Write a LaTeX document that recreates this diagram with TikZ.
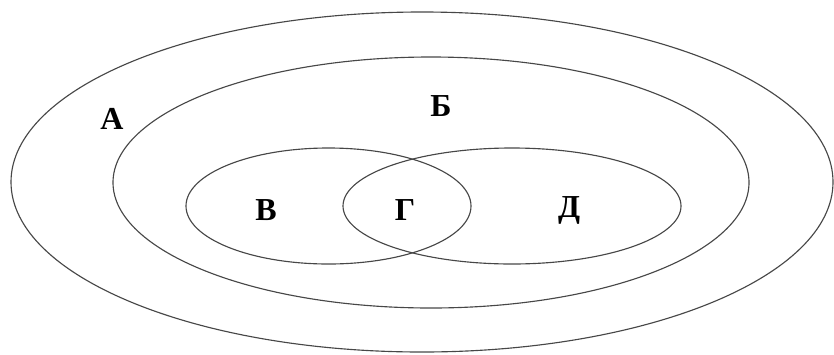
\documentclass[tikz,border=0pt]{standalone}
\usepackage{fontspec}
\setmainfont{Liberation Serif}
\usepackage{tikz}

\begin{document}
\begin{tikzpicture}[
  x=0.75pt, y=-0.75pt,
  setline/.style={draw=black!72, line width=0.85pt},
  setlabel/.style={font=\fontsize{24}{28}\selectfont\bfseries, inner sep=0pt}
]
\useasboundingbox (0,0) rectangle (834,354);
% Set A
\draw[setline] (422,182) ellipse [x radius=411, y radius=170];
% Set B
\draw[setline] (431,182.5) ellipse [x radius=318, y radius=125.5];
% Sets V and D
\draw[setline] (328.5,206) ellipse [x radius=142.5, y radius=58];
\draw[setline] (512,206) ellipse [x radius=169, y radius=58];
% Labels
\node[setlabel] (lA) at (112,119) {А};
\node[setlabel] (lB) at (441,106) {Б};
\node[setlabel] (lV) at (266,210) {В};
\node[setlabel] (lG) at (405,210) {Г};
\node[setlabel] (lD) at (569,210) {Д};
\end{tikzpicture}
\end{document}
